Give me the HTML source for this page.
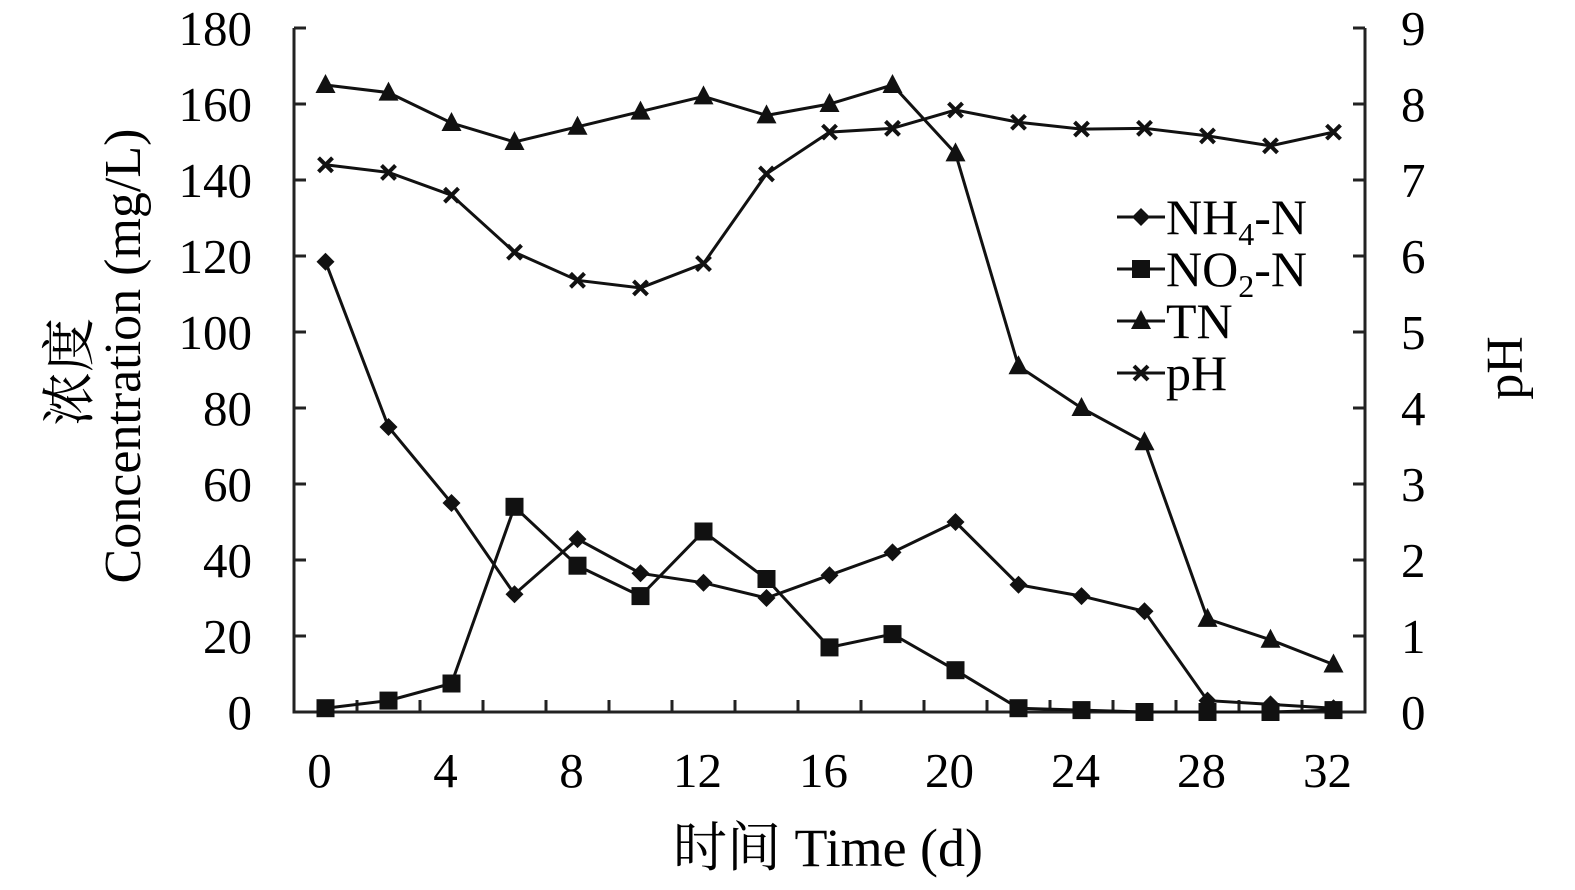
<!DOCTYPE html>
<html><head><meta charset="utf-8"><style>
html,body{margin:0;padding:0;background:#fff;}
svg{display:block;font-family:"Liberation Serif","Noto Serif CJK SC",serif;}
</style></head><body>
<svg id="s" width="1575" height="890" xmlns="http://www.w3.org/2000/svg"></svg>
<script>
const s=document.getElementById('s');let h='';
const L=294,R=1365,T=28,B=712,dx=63;
const X=i=>L+31.5+dx*i, Y=v=>B-(B-T)*v/180, YP=v=>B-(B-T)*v/9;
h+=`<path d="M${L} ${T}V${B}H${R}V${T}" fill="none" stroke="#222" stroke-width="3"/>`;
for(let i=0;i<=9;i++){let y=B-(B-T)*i/9;
h+=`<line x1="${L}" x2="${L+12}" y1="${y}" y2="${y}" stroke="#222" stroke-width="3"/>`;
h+=`<line x1="${R}" x2="${R-12}" y1="${y}" y2="${y}" stroke="#222" stroke-width="3"/>`;
h+=`<text x="${L-42}" y="${y+17}" font-size="49" text-anchor="end">${i*20}</text>`;
h+=`<text x="${R+36}" y="${y+17}" font-size="49" text-anchor="start">${i}</text>`;}
for(let k=1;k<17;k++){let x=L+dx*k;h+=`<line x1="${x}" x2="${x}" y1="${B}" y2="${B-12}" stroke="#222" stroke-width="3"/>`;}
for(let k=0;k<=8;k++){let x=X(2*k);h+=`<text x="${x-6}" y="787" font-size="49" text-anchor="middle">${k*4}</text>`;}
h+=`<text x="828" y="866" font-size="54" text-anchor="middle">时间 Time (d)</text>`;
h+=`<text transform="translate(88,372) rotate(-90)" font-size="54" text-anchor="middle">浓度</text>`;
h+=`<text transform="translate(140,356) rotate(-90)" font-size="52" text-anchor="middle">Concentration (mg/L)</text>`;
h+=`<text transform="translate(1522,368) rotate(-90)" font-size="52" text-anchor="middle">pH</text>`;
const nh=[118.5,75,55,31,45.5,36.5,34,30,36,42,50,33.5,30.5,26.5,3,2,1];
const no=[1,3,7.5,54,38.5,30.5,47.5,35,17,20.5,11,1,0.5,0,0,0,0.5];
const tn=[165,163,155,150,154,158,162,157,160,165,147,91,80,71,24.5,19,12.5];
const ph=[7.2,7.1,6.8,6.05,5.68,5.58,5.9,7.08,7.63,7.68,7.92,7.76,7.67,7.68,7.58,7.45,7.63];
function mk(t,x,y){
if(t==0)return `<path d="M${x} ${y-9}L${x+9} ${y}L${x} ${y+9}L${x-9} ${y}Z" fill="#111"/>`;
if(t==1)return `<rect x="${x-9}" y="${y-9}" width="18" height="18" fill="#111"/>`;
if(t==2)return `<path d="M${x} ${y-11}L${x+10} ${y+8}L${x-10} ${y+8}Z" fill="#111"/>`;
return `<path d="M${x-7} ${y-7}L${x+7} ${y+7}M${x+7} ${y-7}L${x-7} ${y+7}" stroke="#111" stroke-width="4"/>`;}
[[nh,Y],[no,Y],[tn,Y],[ph,YP]].forEach(([d,f],t)=>{
h+=`<polyline fill="none" stroke="#111" stroke-width="3" points="${d.map((v,i)=>X(i)+','+f(v)).join(' ')}"/>`;
d.forEach((v,i)=>h+=mk(t,X(i),f(v)));});
const lg=[['NH','4','-N'],['NO','2','-N'],['TN','',''],['pH','','']];
lg.forEach((l,i)=>{let y=217+i*52;
h+=`<line x1="1117" x2="1165" y1="${y}" y2="${y}" stroke="#111" stroke-width="3"/>`+mk(i,1141,y);
h+=`<text x="1166" y="${y+17}" font-size="50">${l[0]}${l[1]?`<tspan font-size="32" dy="11">${l[1]}</tspan><tspan dy="-11">${l[2]}</tspan>`:''}</text>`;});
s.innerHTML=h;
</script>
</body></html>
